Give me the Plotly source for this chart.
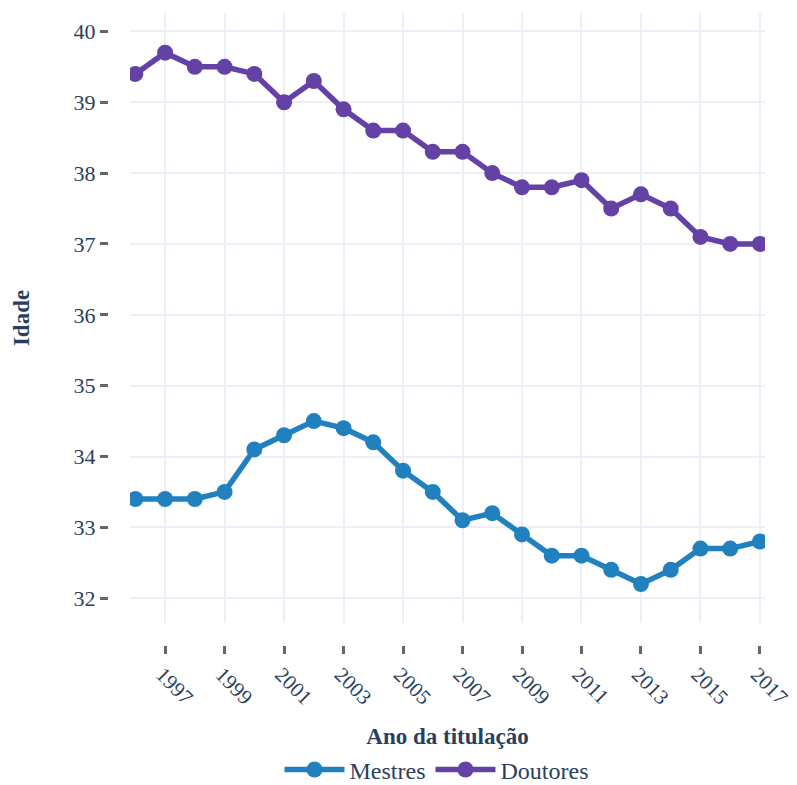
import plotly.graph_objects as go

anos = list(range(1996, 2018))
mestres = [33.4, 33.4, 33.4, 33.5, 34.1, 34.3, 34.5, 34.4, 34.2, 33.8, 33.5,
           33.1, 33.2, 32.9, 32.6, 32.6, 32.4, 32.2, 32.4, 32.7, 32.7, 32.8]
doutores = [39.4, 39.7, 39.5, 39.5, 39.4, 39.0, 39.3, 38.9, 38.6, 38.6, 38.3,
            38.3, 38.0, 37.8, 37.8, 37.9, 37.5, 37.7, 37.5, 37.1, 37.0, 37.0]

# page has an 8px body margin, so the figure is drawn from (8, 8)
W, H = 789, 777
ml, mr, mt, mb = 100, 32, 5, 140
pw = W - ml - mr
ph = H - mt - mb

fig = go.Figure()
fig.add_trace(go.Scatter(x=anos, y=mestres, name="Mestres", mode="lines+markers",
                         line=dict(color="#2181bf", width=5.5),
                         marker=dict(size=16, color="#2181bf")))
fig.add_trace(go.Scatter(x=anos, y=doutores, name="Doutores", mode="lines+markers",
                         line=dict(color="#6441a5", width=5.5),
                         marker=dict(size=16, color="#6441a5")))

font = "Liberation Serif"
fig.update_layout(
    width=W, height=H,
    margin=dict(l=ml, r=mr, t=mt, b=mb, autoexpand=False),
    plot_bgcolor="white", paper_bgcolor="white",
    font=dict(family=font, size=22, color="#2a3f5f"),
    showlegend=True,
    legend=dict(orientation="h", x=0.5, xanchor="center", y=-0.162, yanchor="top",
                font=dict(size=24), itemwidth=60, tracegroupgap=0),
    xaxis=dict(
        domain=[22 / pw, 1], anchor="free", position=0, automargin=False,
        range=[1995.82, 2017.17], tick0=1997, dtick=2, tickangle=45,
        ticklabeloverflow="allow", ticklabelshift=-3,
        ticks="outside", ticklen=8, tickcolor="#666", tickwidth=2.5,
        showgrid=True, gridcolor="#EBF0F8", gridwidth=2, zeroline=False, showline=False,
        tickfont=dict(size=21),
        title=dict(text="<b>Ano da titulação</b>", font=dict(size=23), standoff=19),
    ),
    yaxis=dict(
        domain=[22 / ph, 1], anchor="free", position=0, automargin=False,
        range=[31.65, 40.26], dtick=1,
        ticks="outside", ticklen=8, tickcolor="#666", tickwidth=2.5,
        showgrid=True, gridcolor="#EBF0F8", gridwidth=2, zeroline=False, showline=False,
        tickfont=dict(size=22),
        title=dict(text="<b>Idade</b>", font=dict(size=23), standoff=36),
    ),
)

fig.write_html("out.html")
